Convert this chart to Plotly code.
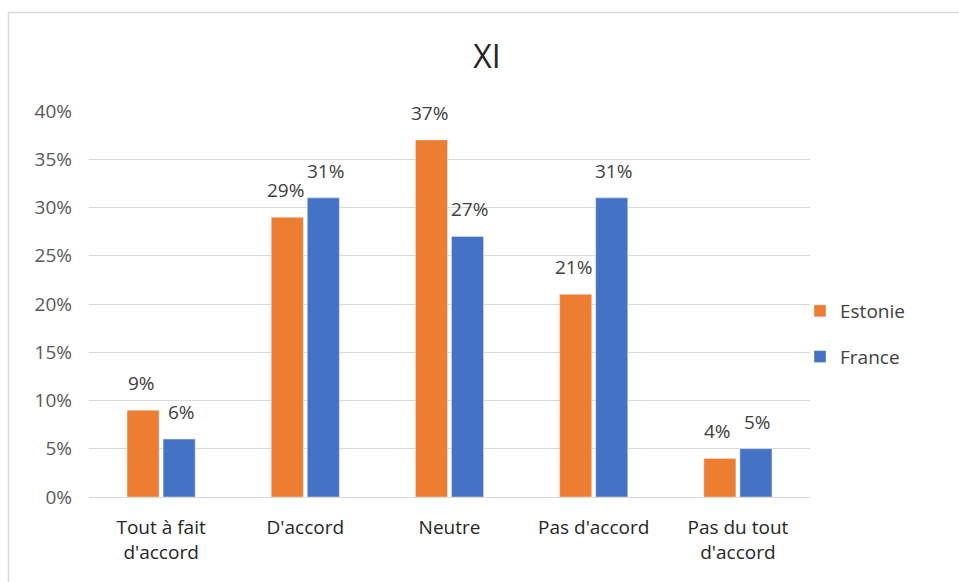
import plotly.graph_objects as go

categories = ["Tout à fait<br>d'accord", "D'accord", "Neutre", "Pas d'accord", "Pas du tout<br>d'accord"]
estonie = [0.09, 0.29, 0.37, 0.21, 0.04]
france = [0.06, 0.31, 0.27, 0.31, 0.05]
y_ticks = [0, 0.05, 0.10, 0.15, 0.20, 0.25, 0.30, 0.35, 0.40]
y_tick_labels = ["0%", "5%", "10%", "15%", "20%", "25%", "30%", "35%", "40%"]

FONT = "Open Sans"
fig = go.Figure()
fig.add_trace(go.Bar(x=categories, y=estonie, name="Estonie", marker_color="#ED7D31",
                     legendgroup="a"))
fig.add_trace(go.Bar(x=categories, y=france, name="France", marker_color="#4472C4",
                     legendgroup="b"))

# data labels above bars
for series, shift in ((estonie, -20), (france, 20)):
    for cat, v in zip(categories, series):
        fig.add_annotation(x=cat, y=v, text=f"{round(v*100)}%", showarrow=False,
                           xanchor="center", yanchor="bottom", xshift=shift, yshift=12,
                           font=dict(family=FONT, size=19, color="#404040"))

W, H = 959, 582
L, R, T, B = 89, 149, 111, 85
pw, ph = W - L - R, H - T - B

fig.update_layout(
    width=W, height=H,
    margin=dict(l=L, r=R, t=T, b=B),
    paper_bgcolor="white", plot_bgcolor="white",
    font=dict(family=FONT, color="#404040"),
    title=dict(text="XI", x=487 / W, xref="container", xanchor="center",
               y=1 - 57 / H, yref="container", yanchor="middle",
               font=dict(family=FONT, size=32, color="#262626")),
    barmode="group", bargap=0.5, bargroupgap=0.11,
    showlegend=True,
    legend=dict(x=(800 - L) / pw, xanchor="left", y=(497 - 334) / ph, yanchor="middle",
                font=dict(family=FONT, size=19, color="#404040"),
                traceorder="grouped", tracegroupgap=18, bgcolor="rgba(0,0,0,0)"),
    shapes=[dict(type="rect", xref="paper", yref="paper",
                 x0=(8.5 - L) / pw, x1=(W + 20 - L) / pw,
                 y0=(497 - H - 20) / ph, y1=(497 - 12.5) / ph,
                 line=dict(color="#D9D9D9", width=1.5), fillcolor="rgba(0,0,0,0)", layer="below")],
)
fig.update_yaxes(range=[0, 0.40], tickvals=y_ticks, ticktext=y_tick_labels,
                 showgrid=True, gridcolor="#D9D9D9", gridwidth=1,
                 zeroline=True, zerolinecolor="#D9D9D9", zerolinewidth=1,
                 showline=False, ticks="", ticklabelstandoff=16,
                 tickfont=dict(family=FONT, size=19, color="#595959"))
fig.update_xaxes(showgrid=False, showline=False, ticks="", ticklabelstandoff=17,
                 tickfont=dict(family=FONT, size=19, color="#262626"))

fig.write_html("out.html")
